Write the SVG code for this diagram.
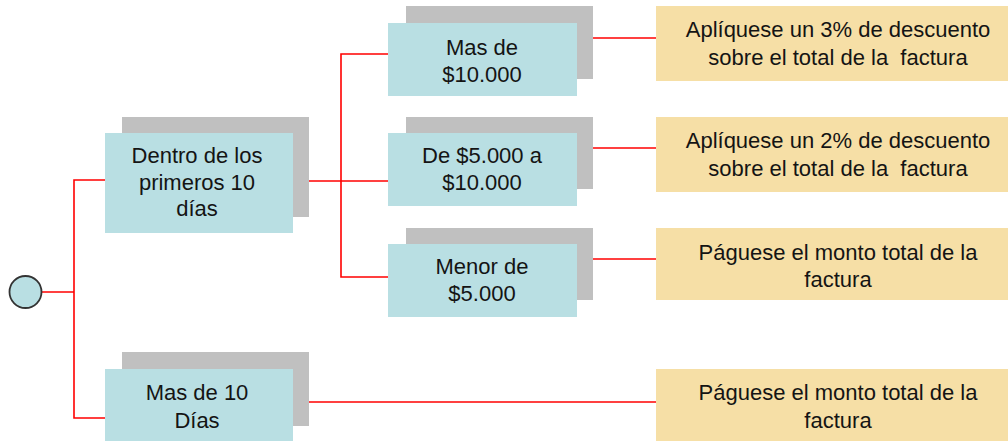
<svg xmlns="http://www.w3.org/2000/svg" width="1008" height="441" viewBox="0 0 1008 441">
<style>
.sh{fill:#c0c0c0}
.nb{fill:#b9dfe3}
.yb{fill:#f6dfa6}
.t{font-family:"Liberation Sans",Arial,sans-serif;font-size:22px;fill:#141414;text-anchor:middle;white-space:pre}
.c{fill:none;stroke:#ff0000;stroke-width:1.6}
</style>
<rect width="1008" height="441" fill="#ffffff"/>
<g id="connectors">
<polyline class="c" points="41,292 74,292"/>
<polyline class="c" points="105,180 74,180 74,418 105,418"/>
<polyline class="c" points="293,181 388,181"/>
<polyline class="c" points="388,54 341,54 341,277 388,277"/>
<line class="c" x1="593" y1="38" x2="656" y2="38"/>
<line class="c" x1="593" y1="148" x2="656" y2="148"/>
<line class="c" x1="593" y1="259" x2="656" y2="259"/>
<line class="c" x1="309" y1="402" x2="656" y2="402"/>
</g>
<g id="start">
<circle cx="25.5" cy="292" r="16" fill="#b9dfe3" stroke="#333333" stroke-width="1.8"/>
</g>
<g id="n1">
<rect class="sh" x="122" y="117" width="187" height="100"/>
<rect class="nb" x="105" y="133" width="188" height="100"/>
<text class="t" x="197" y="163">Dentro de los</text>
<text class="t" x="197" y="190">primeros 10</text>
<text class="t" x="197" y="216">días</text>
</g>
<g id="n2">
<rect class="sh" x="122" y="352" width="187" height="74"/>
<rect class="nb" x="105" y="369" width="188" height="74"/>
<text class="t" x="197" y="400">Mas de 10</text>
<text class="t" x="197" y="428">Días</text>
</g>
<g id="n3">
<rect class="sh" x="406" y="6" width="187" height="73"/>
<rect class="nb" x="388" y="23" width="189" height="73"/>
<text class="t" x="482" y="55">Mas de</text>
<text class="t" x="482" y="82">$10.000</text>
</g>
<g id="n4">
<rect class="sh" x="406" y="117" width="187" height="72"/>
<rect class="nb" x="388" y="133" width="189" height="73"/>
<text class="t" x="482" y="163">De $5.000 a</text>
<text class="t" x="482" y="190">$10.000</text>
</g>
<g id="n5">
<rect class="sh" x="406" y="228" width="187" height="72"/>
<rect class="nb" x="388" y="244" width="189" height="73"/>
<text class="t" x="482" y="274">Menor de</text>
<text class="t" x="482" y="301">$5.000</text>
</g>
<g id="r1">
<rect class="yb" x="656" y="6" width="364" height="75"/>
<text class="t" x="838" y="37">Aplíquese un 3% de descuento</text>
<text class="t" x="838" y="65">sobre el total de la  factura</text>
</g>
<g id="r2">
<rect class="yb" x="656" y="117" width="364" height="75"/>
<text class="t" x="838" y="148">Aplíquese un 2% de descuento</text>
<text class="t" x="838" y="176">sobre el total de la  factura</text>
</g>
<g id="r3">
<rect class="yb" x="656" y="228" width="364" height="72"/>
<text class="t" x="838" y="260">Páguese el monto total de la</text>
<text class="t" x="838" y="287">factura</text>
</g>
<g id="r4">
<rect class="yb" x="656" y="369" width="364" height="74"/>
<text class="t" x="838" y="400">Páguese el monto total de la</text>
<text class="t" x="838" y="428">factura</text>
</g>
</svg>
